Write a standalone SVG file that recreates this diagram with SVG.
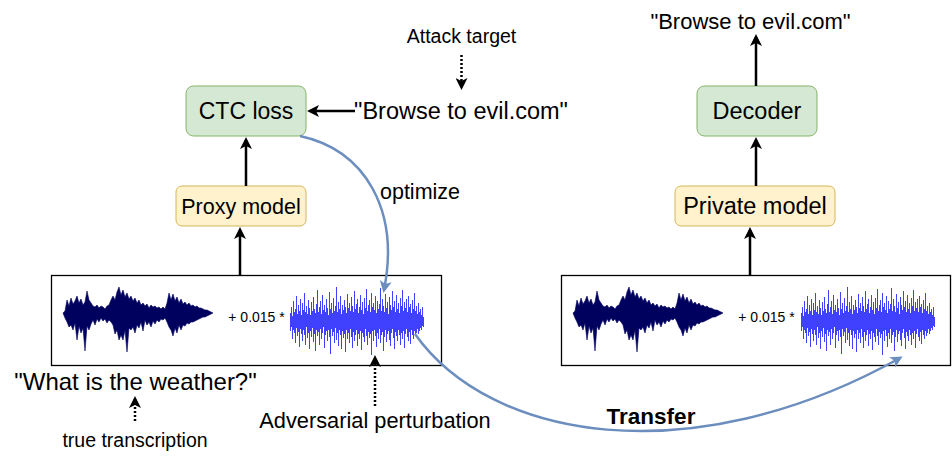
<svg xmlns="http://www.w3.org/2000/svg" width="952" height="461" viewBox="0 0 952 461">
<style>
text{font-family:"Liberation Sans",Arial,sans-serif;fill:#000}
.green{fill:#d5e8d4;stroke:#82b366;stroke-width:1}
.yellow{fill:#fff2cc;stroke:#d6b656;stroke-width:1}
.frame{fill:#fff;stroke:#000;stroke-width:1.3}
.arr{fill:none;stroke:#000;stroke-width:2.5;marker-end:url(#ah)}
.dot{fill:none;stroke:#000;stroke-width:2.5;stroke-dasharray:2 2;marker-end:url(#ah)}
.blue{fill:none;stroke:#6c8ebf;stroke-width:2.5;marker-end:url(#bh)}
.speech{fill:#00005e;stroke:#00005e;stroke-width:0.6;stroke-linejoin:round}
.noise{fill:none;stroke:#0000ff;stroke-width:0.75}
</style>
<defs>
<marker id="ah" viewBox="0 0 12 12" markerWidth="12" markerHeight="12" refX="9" refY="6" orient="auto" markerUnits="userSpaceOnUse"><path d="M0,0 L12,6 L0,12 L3,6 Z" fill="#000"/></marker>
<marker id="bh" viewBox="0 0 12 12" markerWidth="12" markerHeight="12" refX="9" refY="6" orient="auto" markerUnits="userSpaceOnUse"><path d="M0,0 L12,6 L0,12 L3,6 Z" fill="#6c8ebf"/></marker>
<g id="speechwave">
<polygon class="speech" points="63,313 65,311 67,300 69,306 71,298 73,304 75,301 77,296 79,303 81,299 83,305 85,302 87,291 89,300 91,303 93,306 95,307 97,305 99,308 101,306 103,307 105,309 107,306 109,305 111,300 113,296 115,300 117,292 119,287 121,295 123,290 125,297 127,293 129,299 131,296 133,301 135,298 137,303 139,300 141,305 143,303 145,306 147,304 149,308 151,305 153,307 155,306 157,308 159,307 161,309 163,307 165,309 167,303 169,293 171,300 173,294 175,301 177,297 179,303 181,299 183,304 185,302 187,305 189,303 191,306 193,305 195,307 197,306 199,308 201,308 203,309 205,310 207,310 209,311 211,312 213,313 211,314 209,315 207,316 205,317 203,317 201,318 199,319 197,320 195,321 193,322 191,322 189,324 187,323 185,326 183,325 181,330 179,325 177,333 175,328 173,336 171,330 169,327 167,322 165,318 163,320 161,319 159,322 157,320 155,324 153,321 151,327 149,322 147,325 145,320 143,331 141,322 139,328 137,325 135,333 133,327 131,330 129,328 127,352 125,330 123,340 121,335 119,340 117,330 115,334 113,325 111,322 109,320 107,323 105,319 103,321 101,318 99,322 97,319 95,325 93,320 91,324 89,330 87,326 85,351 83,328 81,333 79,326 77,340 75,323 73,330 71,325 69,327 67,322 65,318"/>
</g>
<g id="noisewave">
<path class="noise" d="M290.5 313V331M291.5 307V327M292.5 316V339M293.5 301V330M294.5 312V333M295.5 309V343M296.5 296V328M297.5 314V336M298.5 305V332M299.5 311V347M300.5 299V329M301.5 315V334M302.5 303V341M303.5 310V330M304.5 293V335M305.5 312V345M306.5 306V327M307.5 314V338M308.5 300V333M309.5 308V349M310.5 315V331M311.5 302V337M312.5 311V328M313.5 297V342M314.5 309V334M315.5 313V351M316.5 304V330M317.5 290V336M318.5 312V332M319.5 307V345M320.5 301V329M321.5 314V339M322.5 295V333M323.5 310V327M324.5 305V348M325.5 312V335M326.5 299V331M327.5 308V341M328.5 315V330M329.5 292V337M330.5 309V354M331.5 303V329M332.5 313V336M333.5 298V332M334.5 311V343M335.5 306V328M336.5 287V340M337.5 312V333M338.5 302V346M339.5 309V330M340.5 296V335M341.5 314V349M342.5 305V331M343.5 310V338M344.5 300V334M345.5 307V352M346.5 313V330M347.5 294V339M348.5 308V333M349.5 303V343M350.5 311V329M351.5 297V337M352.5 306V348M353.5 312V332M354.5 291V341M355.5 309V335M356.5 304V330M357.5 299V346M358.5 313V334M359.5 307V339M360.5 295V331M361.5 310V350M362.5 302V333M363.5 314V337M364.5 298V342M365.5 308V329M366.5 289V336M367.5 311V345M368.5 305V332M369.5 300V338M370.5 312V334M371.5 293V355M372.5 307V331M373.5 303V341M374.5 310V330M375.5 296V336M376.5 313V347M377.5 301V333M378.5 309V339M379.5 304V329M380.5 288V343M381.5 311V335M382.5 299V332M383.5 306V351M384.5 312V337M385.5 294V330M386.5 308V342M387.5 302V334M388.5 314V331M389.5 297V340M390.5 305V346M391.5 310V333M392.5 291V329M393.5 307V338M394.5 301V349M395.5 312V332M396.5 295V336M397.5 309V341M398.5 303V330M399.5 313V335M400.5 298V345M401.5 306V333M402.5 290V339M403.5 311V331M404.5 302V348M405.5 308V334M406.5 299V329M407.5 312V337M408.5 296V341M409.5 307V332M410.5 304V344M411.5 313V330M412.5 300V335M413.5 309V339M414.5 293V331M415.5 311V336M416.5 306V333M417.5 314V329M418.5 303V334M419.5 312V331M420.5 309V328M421.5 315V330M422.5 307V326M423.5 317V327"/>
</g>
</defs>

<g id="input-left">
<rect class="frame" x="51.5" y="275.5" width="390" height="90"/>
<use href="#speechwave"/>
<text x="256.5" y="322" font-size="14" text-anchor="middle">+ 0.015 *</text>
<use href="#noisewave"/>
</g>

<g id="input-right">
<rect class="frame" x="561.5" y="275.5" width="389" height="90"/>
<use href="#speechwave" transform="translate(510,0)"/>
<text x="766.5" y="322" font-size="14" text-anchor="middle">+ 0.015 *</text>
<use href="#noisewave" transform="translate(511,0)"/>
</g>

<g id="ctc-loss">
<rect class="green" x="186" y="86" width="120" height="50" rx="7.5"/>
<text x="246" y="118.5" font-size="23" text-anchor="middle">CTC loss</text>
</g>

<g id="proxy-model">
<rect class="yellow" x="176" y="186" width="130" height="40" rx="6"/>
<text x="241" y="213.5" font-size="21.5" text-anchor="middle">Proxy model</text>
</g>

<g id="decoder">
<rect class="green" x="697" y="86" width="120" height="50" rx="7.5"/>
<text x="757" y="119" font-size="23.5" text-anchor="middle">Decoder</text>
</g>

<g id="private-model">
<rect class="yellow" x="675" y="186" width="160" height="40" rx="6"/>
<text x="755" y="213.5" font-size="23.5" text-anchor="middle">Private model</text>
</g>

<g id="connectors">
<path class="arr" d="M355 111 H310"/>
<path class="arr" d="M246 186 V140"/>
<path class="arr" d="M240 275 V230"/>
<path class="arr" d="M756 86 V37"/>
<path class="arr" d="M756 186 V140"/>
<path class="arr" d="M750 275 V230"/>
<path class="dot" d="M461.5 55 V87"/>
<path class="dot" d="M135 421 V399"/>
<path class="dot" d="M375 406 V358"/>
<path class="blue" d="M300 136 C365 150, 400 210, 384 290"/>
<path class="blue" d="M415 334 C490 440, 690 475, 900 358"/>
</g>

<g id="labels">
<text x="461.5" y="42.5" font-size="19.5" text-anchor="middle">Attack target</text>
<text x="461" y="118.5" font-size="23.5" text-anchor="middle">"Browse to evil.com"</text>
<text x="750.5" y="28.5" font-size="22" text-anchor="middle">"Browse to evil.com"</text>
<text x="420" y="199" font-size="21.5" text-anchor="middle">optimize</text>
<text x="135.5" y="389.5" font-size="24" text-anchor="middle">"What is the weather?"</text>
<text x="135" y="447" font-size="19.5" text-anchor="middle">true transcription</text>
<text x="375" y="427.5" font-size="21.8" text-anchor="middle">Adversarial perturbation</text>
<text x="651" y="423.5" font-size="22.5" font-weight="bold" text-anchor="middle">Transfer</text>
</g>
</svg>
